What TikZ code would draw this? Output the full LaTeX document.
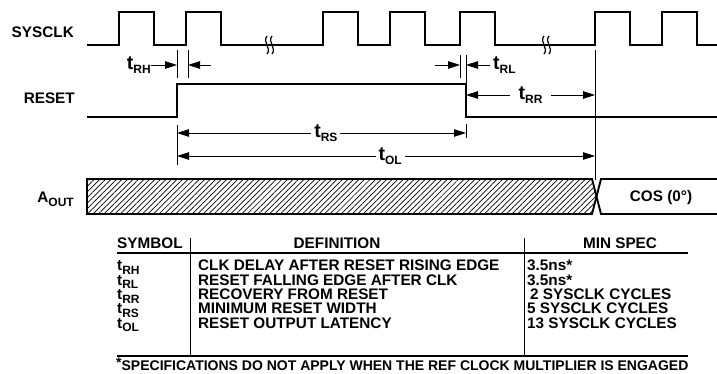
\documentclass[tikz,border=0pt]{standalone}
\usepackage{fontspec}
\setmainfont{Liberation Sans}
\usetikzlibrary{arrows.meta,positioning,patterns.meta}

\newcommand{\tlab}[1]{{\fontsize{19.5}{19.5}\selectfont t}\raisebox{-0.5ex}{\fontsize{12}{12}\selectfont #1}}
\newcommand{\tsym}[1]{t\raisebox{-0.45ex}{\fontsize{12}{12}\selectfont #1}}

\begin{document}
\begin{tikzpicture}[x=1pt, y=-1pt, font=\fontsize{15.3}{18}\selectfont\bfseries,
  wave/.style={line width=1.9pt, line join=miter},
  tick/.style={line width=0.8pt},
  dimarr/.style={line width=0.8pt, -{Triangle[length=12pt,width=7.5pt]}},
  dimboth/.style={line width=0.8pt, {Triangle[length=12pt,width=7.5pt]}-{Triangle[length=12pt,width=7.5pt]}},
  lab/.style={inner sep=0pt},
  cell/.style={inner sep=0pt, anchor=base west}]

  \useasboundingbox (0,0) rectangle (717,373);

  % signal names
  \node[lab, anchor=base east] (clklab) at (74,37) {SYSCLK};
  \node[lab, anchor=base east] (rstlab) at (75,103) {RESET};
  \node[lab, anchor=base east] (aoutlab) at (74,202) {A\raisebox{-0.5ex}{\fontsize{12}{12}\selectfont OUT}};

  % SYSCLK
  \draw[wave] (87,45) foreach \x in {119,186,323,390,460,595,662} {
    -- (\x,45) -- (\x,12) -- (\x+35,12) -- (\x+35,45) } -- (717,45);
  \foreach \b in {267,544} {
    \draw[line width=1.2pt] (\b,36) .. controls (\b-5,42) and (\b+5,48) .. (\b,54);
    \draw[line width=1.2pt] (\b+5,36) .. controls (\b,42) and (\b+10,48) .. (\b+5,54);
  }

  % RESET
  \coordinate (rstup) at (177,84);
  \coordinate (rstdn) at (466,84);
  \draw[wave] (87,117) -- (rstup |- 0,117) -- (rstup) -- (rstdn) -- (rstdn |- 0,117) -- (717,117);

  % A_OUT
  \coordinate (cross) at (596.5,196.5);
  \fill[pattern={Lines[angle=45, distance=3.9pt, line width=0.7pt]}]
    (87,179) -- (592,179) -- (cross) -- (592,214) -- (87,214) -- cycle;
  \draw[wave] (cross) -- (592,179) -- (87,179) -- (87,214) -- (592,214) -- (cross);
  \draw[wave] (717,179) -- (601,179) -- (cross) -- (601,214) -- (717,214);
  \node[lab] (cos) at (661,198) {COS (0\textdegree)};

  % reference lines
  \coordinate (rhL) at (177,65);
  \coordinate (rhR) at (188,65);
  \coordinate (rlL) at (460,65);
  \coordinate (rlR) at (466,65);
  \coordinate (rrL) at (466,95);
  \coordinate (rrR) at (595,95);
  \coordinate (rsL) at (177,133);
  \coordinate (rsR) at (466,133);
  \coordinate (olL) at (177,156);
  \coordinate (olR) at (595,156);

  \draw[tick] (177,50) -- (177,78);
  \draw[tick] (188,50) -- (188,78);
  \draw[tick] (460,55) -- (460,78);
  \draw[tick] (466,55) -- (466,84);
  \draw[tick] (595,50) -- (595,180);
  \draw[tick] (177,125) -- (177,165);
  \draw[tick] (466,124) -- (466,138);

  % t_RH
  \node[lab, anchor=east] (trh) at (151,65) {\tlab{RH}};
  \coordinate (trhA) at (211,65);
  \draw[dimarr] (trh.east |- rhL) -- (rhL);
  \draw[dimarr] (trhA) -- (rhR);

  % t_RL
  \node[lab, anchor=west] (trl) at (493,65) {\tlab{RL}};
  \coordinate (trlA) at (435,65);
  \draw[dimarr] (trlA) -- (rlL);
  \draw[dimarr] (trl.west |- rlR) ++(-3,0) -- (rlR);

  % t_RR, t_RS, t_OL
  \draw[dimboth] (rrL) -- node[lab, fill=white, inner xsep=9pt, inner ysep=2pt] (trr) {\tlab{RR}} (rrR);
  \draw[dimboth] (rsL) -- node[lab, fill=white, pos=0.515, inner xsep=3pt, inner ysep=2pt] (trs) {\tlab{RS}} (rsR);
  \draw[dimboth] (olL) -- node[lab, fill=white, pos=0.51, inner xsep=3pt, inner ysep=2pt] (tol) {\tlab{OL}} (olR);

  % table
  \node[cell] (symh) at (117,248) {SYMBOL};
  \node[cell, anchor=base] (defh) at (337,248) {DEFINITION};
  \node[cell, anchor=base] (spech) at (620,248) {MIN SPEC};
  \draw[line width=1.6pt] (117,253) -- (688,253);
  \draw[line width=1.6pt] (117,356) -- (688,356);
  \draw[tick] (190,238) -- (190,356);
  \draw[tick] (524,238) -- (524,356);

  \foreach \s/\d/\m/\mx [count=\i] in {
      RH/CLK DELAY AFTER RESET RISING EDGE/3.5ns*/527,
      RL/RESET FALLING EDGE AFTER CLK/3.5ns*/527,
      RR/RECOVERY FROM RESET/2 SYSCLK CYCLES/530,
      RS/MINIMUM RESET WIDTH/5 SYSCLK CYCLES/527,
      OL/RESET OUTPUT LATENCY/13 SYSCLK CYCLES/527} {
    \node[cell] (sym\i) at (117,256.5+14.3*\i) {\tsym{\s}};
    \node[cell] (def\i) at (198,256.5+14.3*\i) {\d};
    \node[cell] (spec\i) at (\mx,256.5+14.3*\i) {\m};
  }

  \node[cell, font=\fontsize{14}{16}\selectfont\bfseries] (note) at (116,370)
    {\raisebox{0.3ex}{*}SPECIFICATIONS DO NOT APPLY WHEN THE REF CLOCK MULTIPLIER IS ENGAGED};
\end{tikzpicture}
\end{document}
